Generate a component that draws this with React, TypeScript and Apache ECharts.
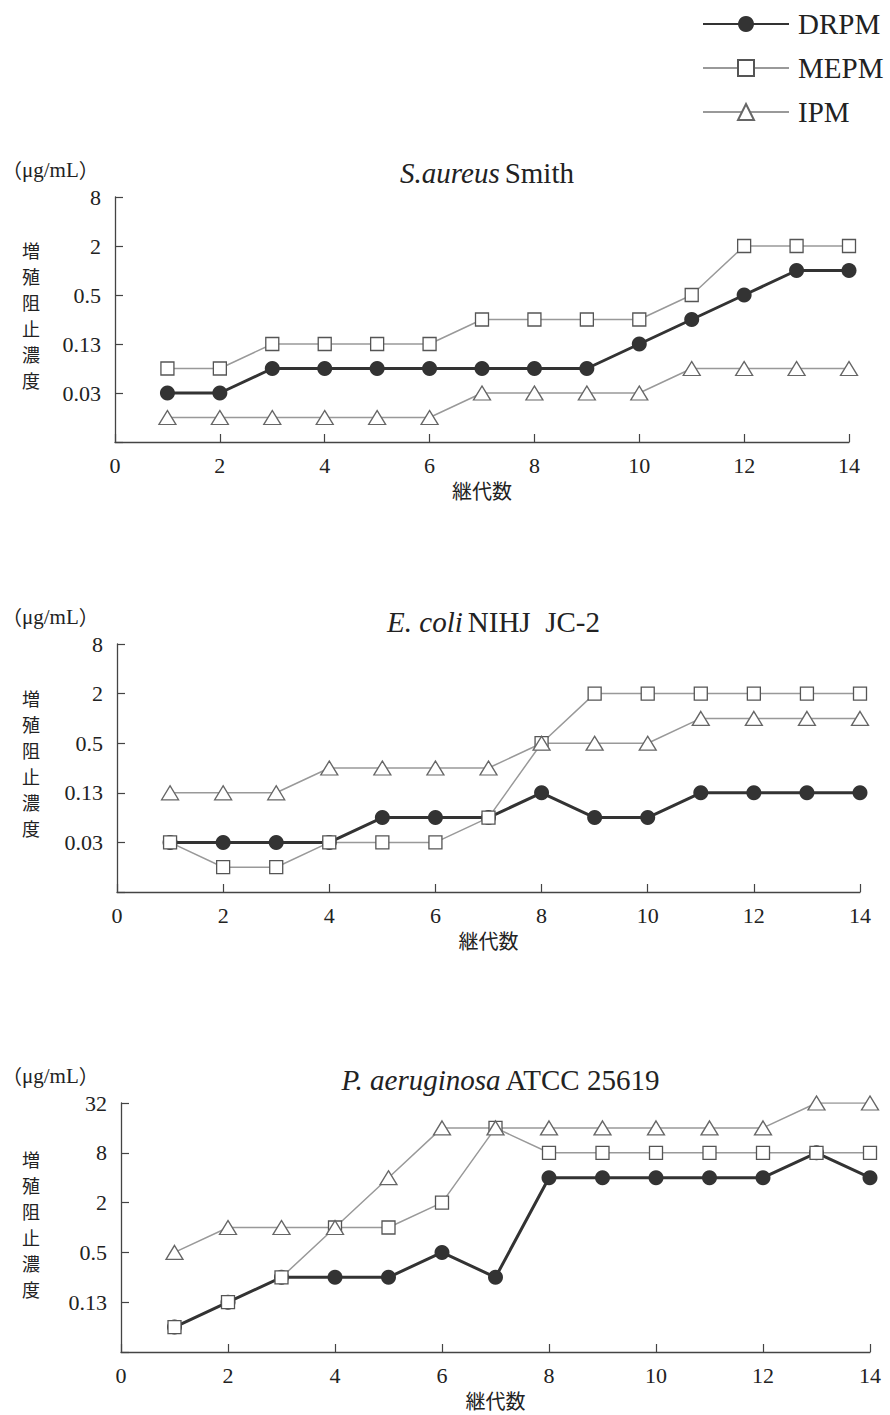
import React, { useEffect, useRef } from 'react';
import * as echarts from 'echarts';

// Dilution levels (μg/mL) used as the log2 scale steps
const LEVELS = [0.0078, 0.015, 0.03, 0.06, 0.13, 0.25, 0.5, 1, 2, 4, 8, 16, 32];
const PASSAGES = [1, 2, 3, 4, 5, 6, 7, 8, 9, 10, 11, 12, 13, 14];
const DRUGS = ['DRPM', 'MEPM', 'IPM'];
const UNIT = 'μg/mL';
const Y_NAME = ['増', '殖', '阻', '止', '濃', '度'];
const X_NAME = '継代数';

// S. aureus Smith
const SA_DRPM = [0.03, 0.03, 0.06, 0.06, 0.06, 0.06, 0.06, 0.06, 0.06, 0.13, 0.25, 0.5, 1, 1];
const SA_MEPM = [0.06, 0.06, 0.13, 0.13, 0.13, 0.13, 0.25, 0.25, 0.25, 0.25, 0.5, 2, 2, 2];
const SA_IPM = [0.015, 0.015, 0.015, 0.015, 0.015, 0.015, 0.03, 0.03, 0.03, 0.03, 0.06, 0.06, 0.06, 0.06];

// E. coli NIHJ JC-2
const EC_DRPM = [0.03, 0.03, 0.03, 0.03, 0.06, 0.06, 0.06, 0.13, 0.06, 0.06, 0.13, 0.13, 0.13, 0.13];
const EC_MEPM = [0.03, 0.015, 0.015, 0.03, 0.03, 0.03, 0.06, 0.5, 2, 2, 2, 2, 2, 2];
const EC_IPM = [0.13, 0.13, 0.13, 0.25, 0.25, 0.25, 0.25, 0.5, 0.5, 0.5, 1, 1, 1, 1];

// P. aeruginosa ATCC 25619
const PA_DRPM = [0.06, 0.13, 0.25, 0.25, 0.25, 0.5, 0.25, 4, 4, 4, 4, 4, 8, 4];
const PA_MEPM = [0.06, 0.13, 0.25, 1, 1, 2, 16, 8, 8, 8, 8, 8, 8, 8];
const PA_IPM = [0.5, 1, 1, 1, 4, 16, 16, 16, 16, 16, 16, 16, 32, 32];

const PANELS = [
  { italic: 'S.aureus', rest: 'Smith', yMin: 0.0078, yMax: 8, series: [SA_DRPM, SA_MEPM, SA_IPM] },
  { italic: 'E. coli', rest: 'NIHJ  JC-2', yMin: 0.0078, yMax: 8, series: [EC_DRPM, EC_MEPM, EC_IPM] },
  { italic: 'P. aeruginosa', rest: 'ATCC 25619', yMin: 0.03, yMax: 32, series: [PA_DRPM, PA_MEPM, PA_IPM] },
];

// layout (pixels)
const LAYOUT = [
  { left: 115, top: 197, width: 734, height: 245, titleY: 153, unitY: 171, nameY: 315 },
  { left: 117, top: 644, width: 743, height: 248, titleY: 602, unitY: 618, nameY: 763 },
  { left: 121, top: 1103, width: 749, height: 249, titleY: 1060, unitY: 1077, nameY: 1224 },
];

const SERIF = "'Liberation Serif', 'DejaVu Serif', 'Noto Sans CJK JP', serif";
const CJK = "'Noto Sans CJK JP', sans-serif";
const AXIS_COLOR = '#444';
const TEXT_COLOR = '#222';

const lvl = (v: number) => LEVELS.indexOf(v);

const STYLE: Record<string, any> = {
  DRPM: {
    symbol: 'circle',
    symbolSize: 15,
    lineStyle: { color: '#333', width: 3 },
    itemStyle: { color: '#333', borderColor: '#333', borderWidth: 0 },
  },
  MEPM: {
    symbol: 'rect',
    symbolSize: 13,
    lineStyle: { color: '#999', width: 1.5 },
    itemStyle: { color: '#fff', borderColor: '#555', borderWidth: 1.3 },
  },
  IPM: {
    symbol: 'triangle',
    symbolSize: [17, 14],
    lineStyle: { color: '#999', width: 1.5 },
    itemStyle: { color: '#fff', borderColor: '#666', borderWidth: 1.3 },
  },
};
// drawing order: gray lines < DRPM line < DRPM circles < MEPM squares < IPM triangles
const LINE_Z: Record<string, number> = { DRPM: 3, MEPM: 1, IPM: 2 };
const MARK_Z: Record<string, number> = { DRPM: 4, MEPM: 5, IPM: 6 };

export default function App() {
  const ref = useRef<HTMLDivElement>(null);
  useEffect(() => {
    if (!ref.current) return;
    const chart = echarts.init(ref.current, undefined, { renderer: 'svg' });

    const grids: any[] = [];
    const xAxes: any[] = [];
    const yAxes: any[] = [];
    const series: any[] = [];
    const titles: any[] = [];
    const graphics: any[] = [];

    PANELS.forEach((p, i) => {
      const L = LAYOUT[i];
      grids.push({ left: L.left, top: L.top, width: L.width, height: L.height, containLabel: false });
      xAxes.push({
        type: 'value',
        gridIndex: i,
        min: 0,
        max: 14,
        interval: 2,
        name: X_NAME,
        nameLocation: 'middle',
        nameGap: 38,
        nameTextStyle: { fontFamily: CJK, fontSize: 20, color: TEXT_COLOR },
        axisLine: { show: true, lineStyle: { color: AXIS_COLOR, width: 1.3 } },
        axisTick: { show: true, inside: true, length: 8, lineStyle: { color: AXIS_COLOR, width: 1.2 } },
        axisLabel: { margin: 12, fontFamily: SERIF, fontSize: 22, color: TEXT_COLOR },
        splitLine: { show: false },
      });
      const minL = lvl(p.yMin);
      yAxes.push({
        type: 'value',
        gridIndex: i,
        min: minL,
        max: lvl(p.yMax),
        interval: 2,
        axisLine: { show: true, lineStyle: { color: AXIS_COLOR, width: 1.3 } },
        axisTick: { show: true, inside: true, length: 8, lineStyle: { color: AXIS_COLOR, width: 1.2 } },
        axisLabel: {
          margin: 14,
          fontFamily: SERIF,
          fontSize: 22,
          color: TEXT_COLOR,
          formatter: (v: number) => (v === minL ? '' : String(LEVELS[v])),
        },
        splitLine: { show: false },
      });
      p.series.forEach((vals, k) => {
        const drug = DRUGS[k];
        const data = vals.map((v, j) => [PASSAGES[j], lvl(v)]);
        // line (with legend icon style), markers hidden here
        series.push({
          type: 'line',
          name: drug,
          xAxisIndex: i,
          yAxisIndex: i,
          data,
          showSymbol: false,
          emphasis: { disabled: true },
          silent: true,
          z: LINE_Z[drug],
          ...STYLE[drug],
        });
        // markers on top
        series.push({
          type: 'scatter',
          name: drug,
          xAxisIndex: i,
          yAxisIndex: i,
          data,
          symbol: STYLE[drug].symbol,
          symbolSize: STYLE[drug].symbolSize,
          itemStyle: { ...STYLE[drug].itemStyle, opacity: 1 },
          emphasis: { disabled: true },
          silent: true,
          z: MARK_Z[drug],
        });
      });
      titles.push({
        text: `{i|${p.italic}} {n|${p.rest}}`,
        left: L.left + L.width / 2,
        top: L.titleY,
        textAlign: 'center',
        textStyle: {
          fontWeight: 'normal',
          rich: {
            i: { fontFamily: SERIF, fontStyle: 'italic', fontWeight: 'normal', fontSize: 29, color: TEXT_COLOR },
            n: { fontFamily: SERIF, fontWeight: 'normal', fontSize: 29, color: TEXT_COLOR },
          },
        },
      });
      graphics.push({
        type: 'text',
        left: 2,
        top: L.unitY - 12,
        style: {
          text: `{p|（}{t|${UNIT}}{p|）}`,
          rich: {
            p: { fontFamily: CJK, fontSize: 20, fill: TEXT_COLOR, color: TEXT_COLOR },
            t: { fontFamily: SERIF, fontSize: 21, fill: TEXT_COLOR, color: TEXT_COLOR },
          },
          fill: TEXT_COLOR,
        },
      });
      Y_NAME.forEach((ch, c) => {
        graphics.push({
          type: 'text',
          x: 31,
          y: L.nameY + (c - (Y_NAME.length - 1) / 2) * 26,
          style: {
            text: ch,
            font: `18px ${CJK}`,
            fill: TEXT_COLOR,
            align: 'center',
            verticalAlign: 'middle',
          },
        });
      });
    });

    chart.setOption({
      animation: false,
      backgroundColor: '#fff',
      title: titles,
      legend: {
        data: DRUGS,
        orient: 'vertical',
        left: 697,
        top: 4,
        itemWidth: 86,
        itemHeight: 20,
        itemGap: 14,
        textStyle: { fontFamily: SERIF, fontSize: 29, color: TEXT_COLOR, lineHeight: 30, padding: [0, 0, 0, 4] },
        selectedMode: false,
      },
      grid: grids,
      xAxis: xAxes,
      yAxis: yAxes,
      series,
      graphic: graphics,
    });

    return () => chart.dispose();
  }, []);

  return (
    <div
      ref={ref}
      style={{ position: 'absolute', left: 0, top: 0, width: 890, height: 1415, background: '#fff' }}
    />
  );
}
